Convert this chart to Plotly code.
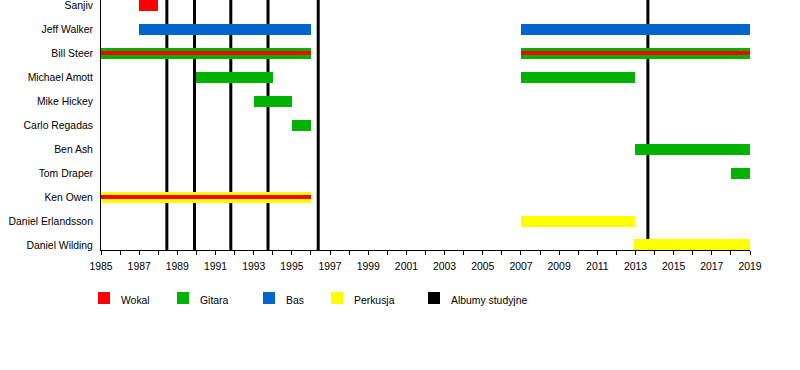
import plotly.graph_objects as go

# ---------------- data ----------------
members = ["Sanjiv", "Jeff Walker", "Bill Steer", "Michael Amott", "Mike Hickey",
           "Carlo Regadas", "Ben Ash", "Tom Draper", "Ken Owen",
           "Daniel Erlandsson", "Daniel Wilding"]

guitar_members = ["Bill Steer", "Bill Steer", "Michael Amott", "Michael Amott",
                  "Mike Hickey", "Carlo Regadas", "Ben Ash", "Tom Draper"]
guitar_start = [1985, 2007, 1990, 2007, 1993, 1995, 2013, 2018]
guitar_end = [1996, 2019, 1994, 2013, 1995, 1996, 2019, 2019]

bass_members = ["Jeff Walker", "Jeff Walker"]
bass_start = [1987, 2007]
bass_end = [1996, 2019]

drum_members = ["Ken Owen", "Daniel Erlandsson", "Daniel Wilding"]
drum_start = [1985, 2007, 2012.9]
drum_end = [1996, 2013, 2019]

vocal_members = ["Sanjiv", "Bill Steer", "Bill Steer", "Ken Owen"]
vocal_start = [1987, 1985, 2007, 1985]
vocal_end = [1988, 1996, 2019, 1996]

album_years = [1988.45, 1989.9, 1991.8, 1993.75, 1996.38, 2013.65]

legend_labels = ["Wokal", "Gitara", "Bas", "Perkusja", "Albumy studyjne"]

# ---------------- style ----------------
C_VOC = "#FF0000"
C_GIT = "#00B300"
C_BAS = "#0066CC"
C_DRM = "#FFFF00"
C_ALB = "#000000"
legend_colors = [C_VOC, C_GIT, C_BAS, C_DRM, C_ALB]

FONT = "Liberation Sans, Arial, sans-serif"
FS = 10.4
W, H = 800, 370
L, R, T, B = 101, 50, 0, 120
FULL = 0.46
NARROW = 0.17

fig = go.Figure()


def add_bars(names, starts, ends, color, widths):
    fig.add_trace(go.Bar(
        orientation="h",
        y=names,
        x=[e - s for s, e in zip(starts, ends)],
        base=starts,
        width=widths,
        marker=dict(color=color, line=dict(width=0)),
        showlegend=False,
        hoverinfo="skip",
    ))


add_bars(guitar_members, guitar_start, guitar_end, C_GIT, [FULL] * len(guitar_members))
add_bars(bass_members, bass_start, bass_end, C_BAS, [FULL] * len(bass_members))
add_bars(drum_members, drum_start, drum_end, C_DRM, [FULL] * len(drum_members))

others = set(guitar_members) | set(bass_members) | set(drum_members)
vocal_widths = [NARROW if m in others else FULL for m in vocal_members]
add_bars(vocal_members, vocal_start, vocal_end, C_VOC, vocal_widths)

# album lines (behind bars)
for yr in album_years:
    fig.add_shape(type="line", xref="x", yref="paper", x0=yr, x1=yr, y0=0, y1=1,
                  line=dict(color=C_ALB, width=3), layer="below")

# legend drawn manually
plot_w = W - L - R
plot_h = H - T - B
sq_px = [98, 177, 263, 331, 428]
txt_px = [120, 199, 285, 353, 450]
sq_top, sq_bot, txt_mid = 292, 304, 300


def px_x(p):
    return (p - L) / plot_w


def px_y(p):
    return (T + plot_h - p) / plot_h


for lab, col, sx, tx in zip(legend_labels, legend_colors, sq_px, txt_px):
    fig.add_shape(type="rect", xref="paper", yref="paper",
                  x0=px_x(sx), x1=px_x(sx + 12), y0=px_y(sq_bot), y1=px_y(sq_top),
                  fillcolor=col, line=dict(width=0))
    fig.add_annotation(xref="paper", yref="paper", x=px_x(tx), y=px_y(txt_mid),
                       text=lab, showarrow=False, xanchor="left", yanchor="middle",
                       borderpad=0,
                       font=dict(family=FONT, size=FS, color="black"))

fig.update_layout(
    width=W, height=H,
    margin=dict(l=L, r=R, t=T, b=B, pad=0, autoexpand=False),
    paper_bgcolor="white", plot_bgcolor="white",
    barmode="overlay",
    bargap=0,
    font=dict(family=FONT, size=FS, color="black"),
    showlegend=False,
)
fig.update_xaxes(
    range=[1985, 2019],
    tick0=1985, dtick=2,
    ticks="outside", ticklen=4, tickcolor="black", tickwidth=1,
    minor=dict(dtick=1, tick0=1985, ticks="outside", ticklen=4, tickcolor="black"),
    ticklabelstandoff=3,
    showline=True, linecolor="black", linewidth=1,
    showgrid=False, zeroline=False, automargin=False,
    tickfont=dict(family=FONT, size=FS, color="black"),
)
fig.update_yaxes(
    type="category",
    categoryorder="array", categoryarray=members,
    range=[10.21, -0.23],
    ticks="", ticklabelstandoff=5,
    showline=True, linecolor="black", linewidth=1,
    showgrid=False, zeroline=False, automargin=False,
    tickfont=dict(family=FONT, size=FS, color="black"),
)

fig.write_html("out.html", config={"displayModeBar": False},
               post_script="document.body.style.margin='0px';")
